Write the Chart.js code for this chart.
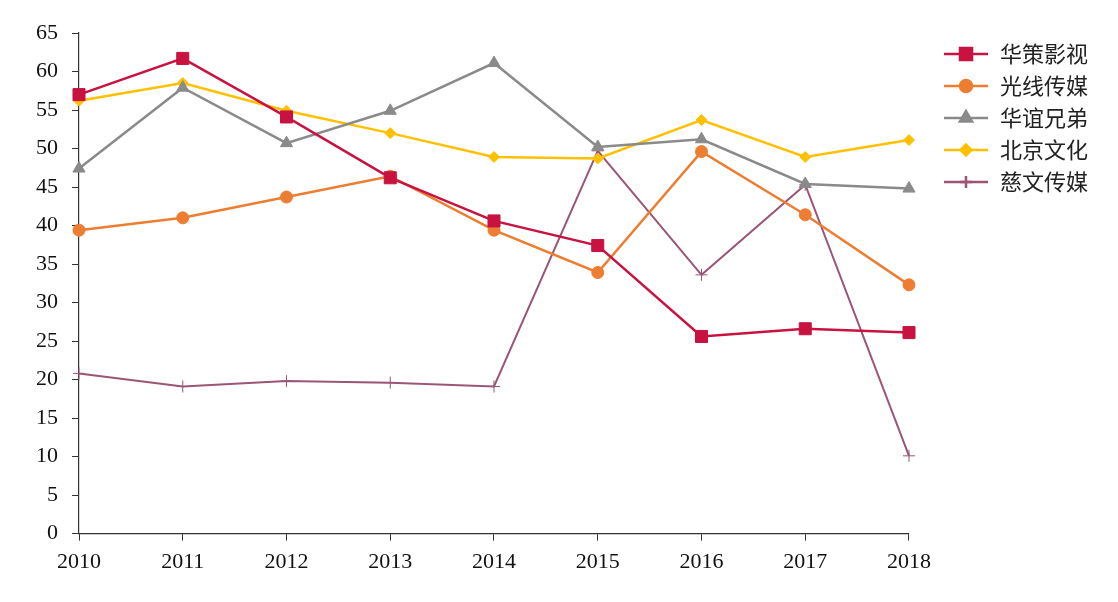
<!DOCTYPE html>
<html>
<head>
<meta charset="utf-8">
<script src="https://cdn.jsdelivr.net/npm/chart.js@4"></script>
<style>
  html, body { margin: 0; padding: 0; background: #fff; }
  #wrap { width: 1118px; height: 602px; }
</style>
</head>
<body>
<div id="wrap"><canvas id="chart"></canvas></div>
<script>
const years = ["2010","2011","2012","2013","2014","2015","2016","2017","2018"];

const huace    = [57.0, 61.7, 54.1, 46.2, 40.6, 37.4, 25.6, 26.6, 26.1]; // 华策影视
const guangxian = [39.4, 41.0, 43.7, 46.4, 39.4, 33.9, 49.6, 41.4, 32.3]; // 光线传媒
const huayi    = [47.4, 57.9, 50.7, 54.9, 61.1, 50.2, 51.2, 45.4, 44.8]; // 华谊兄弟
const beijing  = [56.2, 58.5, 54.9, 52.0, 48.9, 48.7, 53.7, 48.9, 51.1]; // 北京文化
const ciwen    = [20.8, 19.1, 19.8, 19.6, 19.1, 49.7, 33.6, 45.3, 10.1]; // 慈文传媒

const names = ["华策影视", "光线传媒", "华谊兄弟", "北京文化", "慈文传媒"];
const colors = ["#C8123F", "#ED7D31", "#8A8A8A", "#FFC000", "#9B5577"];

// legend swatch: short line with the marker in the middle
function swatch(color, style, r, lw) {
  const c = document.createElement("canvas");
  c.width = 46; c.height = 18;
  const g = c.getContext("2d");
  g.strokeStyle = color; g.lineWidth = lw;
  g.beginPath(); g.moveTo(1, 9); g.lineTo(45, 9); g.stroke();
  g.fillStyle = color;
  g.strokeStyle = color;
  Chart.helpers.drawPoint(g, {pointStyle: style, radius: r, borderWidth: 1}, 23, 9);
  return c;
}

function ds(label, data, color, style, r, lw) {
  return {
    label: label,
    data: data,
    borderColor: color,
    backgroundColor: color,
    borderWidth: lw,
    pointStyle: style,
    pointRadius: r,
    pointHoverRadius: r,
    pointBorderWidth: 1,
    pointBorderColor: color,
    pointBackgroundColor: color,
    tension: 0,
    legendImg: null
  };
}

const datasets = [
  ds(names[0], huace, colors[0], "rect", 8.5, 2.5),
  ds(names[1], guangxian, colors[1], "circle", 6, 2.5),
  ds(names[2], huayi, colors[2], "triangle", 7, 2.5),
  ds(names[3], beijing, colors[3], "rectRot", 5.5, 2.5),
  ds(names[4], ciwen, colors[4], "cross", 6, 2)
];
datasets.forEach(d => { d.legendImg = swatch(d.borderColor, d.pointStyle, d.pointRadius, 2.5); });

// leave a gap between plot and legend: widen the legend box, draw its items at the right
const GAP = 24;
const widenLegend = {
  id: "widenLegend",
  beforeLayout(chart) {
    const lg = chart.legend;
    if (lg && !lg._widened) {
      const fit = lg.fit.bind(lg);
      const draw = lg.draw.bind(lg);
      lg.fit = function () { fit(); this.width += GAP; };
      lg.draw = function () {
        const ctx = this.ctx;
        ctx.save(); ctx.translate(GAP, 0); draw(); ctx.restore();
      };
      lg._widened = true;
    }
  }
};

const serif = "'Liberation Serif', 'Times New Roman', serif";

new Chart(document.getElementById("chart"), {
  type: "line",
  data: { labels: years, datasets: datasets },
  plugins: [widenLegend],
  options: {
    responsive: true,
    maintainAspectRatio: false,
    animation: false,
    layout: { padding: { left: 22, right: 20, top: 33, bottom: 19 } },
    plugins: {
      tooltip: { enabled: false },
      legend: {
        position: "right",
        align: "start",
        labels: {
          usePointStyle: true,
          pointStyleWidth: 46,
          padding: 10,
          color: "#222",
          font: { family: "'Noto Sans CJK SC', sans-serif", size: 22 },
          generateLabels(chart) {
            return chart.data.datasets.map((d, i) => ({
              text: d.label,
              pointStyle: d.legendImg,
              fillStyle: d.borderColor,
              strokeStyle: d.borderColor,
              lineWidth: 0,
              hidden: false,
              datasetIndex: i,
              fontColor: "#222"
            }));
          }
        }
      }
    },
    scales: {
      x: {
        offset: false,
        grid: { display: true, drawOnChartArea: false, drawTicks: true, tickLength: 7, color: "#333" },
        border: { color: "#333", width: 1.2 },
        ticks: { color: "#111", font: { family: serif, size: 22 }, padding: 8, maxRotation: 0 }
      },
      y: {
        min: 0,
        max: 65,
        grid: { display: true, drawOnChartArea: false, drawTicks: true, tickLength: 7, color: "#333" },
        border: { color: "#333", width: 1.2 },
        ticks: { stepSize: 5, color: "#111", font: { family: serif, size: 22 }, padding: 14 }
      }
    }
  }
});
</script>
</body>
</html>
